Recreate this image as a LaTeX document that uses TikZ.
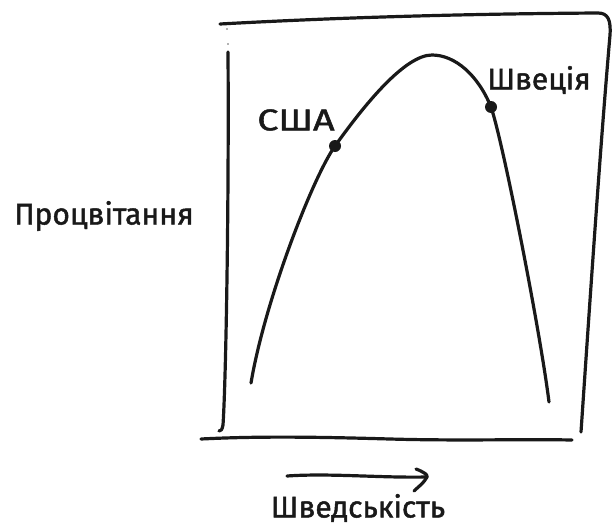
\documentclass[tikz,border=0pt]{standalone}
\usepackage{fontspec}
\setmainfont{Fira Sans}[FakeBold=1.5]
\usetikzlibrary{arrows.meta}
\begin{document}
\begin{tikzpicture}[x=1pt,y=-1pt,
  ink/.style={line width=3.2pt,line cap=round,line join=round,color=black!90},
  dotmark/.style={circle,fill=black!90,inner sep=0pt,minimum size=12pt},
  lbl/.style={font=\fontsize{30}{34}\selectfont,inner sep=0pt,text=black!90}]
\useasboundingbox (0,0) rectangle (613,525);
% frame
\draw[ink] (220,24) .. controls (330,18) and (450,14) .. (598,13)
  .. controls (608,13) and (611,20) .. (610,35)
  .. controls (600,150) and (590,300) .. (581,432);
\draw[ink] (228,52) .. controls (229,200) and (226,380) .. (223,425)
  .. controls (222,430) and (221,431) .. (219,431);
\fill[black!60] (227,29) circle (0.9pt);
\fill[black!60] (228,44) circle (0.9pt);
% x axis
\draw[ink] (201,439) .. controls (260,436) and (320,437) .. (390,439)
  .. controls (460,441) and (520,439) .. (572,440);
% dots
\node[dotmark] (usa) at (335,146) {};
\node[dotmark] (swe) at (491,107) {};
\coordinate (start) at (251,383);
\coordinate (peak) at (432,55);
\coordinate (finish) at (549,402);
% curve
\draw[ink] (start) .. controls (265,300) and (313,177) .. (usa.center)
  .. controls (365,104) and (405,55) .. (peak)
  .. controls (455,55) and (478,75) .. (swe.center)
  .. controls (503,142) and (540,330) .. (finish);
% arrow
\coordinate (a1) at (287,476);
\coordinate (a2) at (427,477);
\draw[ink] (a1) .. controls (330,473) and (380,478) .. (a2);
\draw[ink] (416,469) .. controls (424,472) and (428,475) .. (a2)
  .. controls (424,483) and (418,487) .. (414,491);
% labels
\node[lbl] (xlab) at (358,508) {Шведськість};
\node[lbl] (ylab) at (104,216) {Процвітання};
\node[lbl,xscale=1.25] (usal) at (296,120) {США};
\node[lbl] (swel) at (539,80) {Швеція};
\end{tikzpicture}
\end{document}
